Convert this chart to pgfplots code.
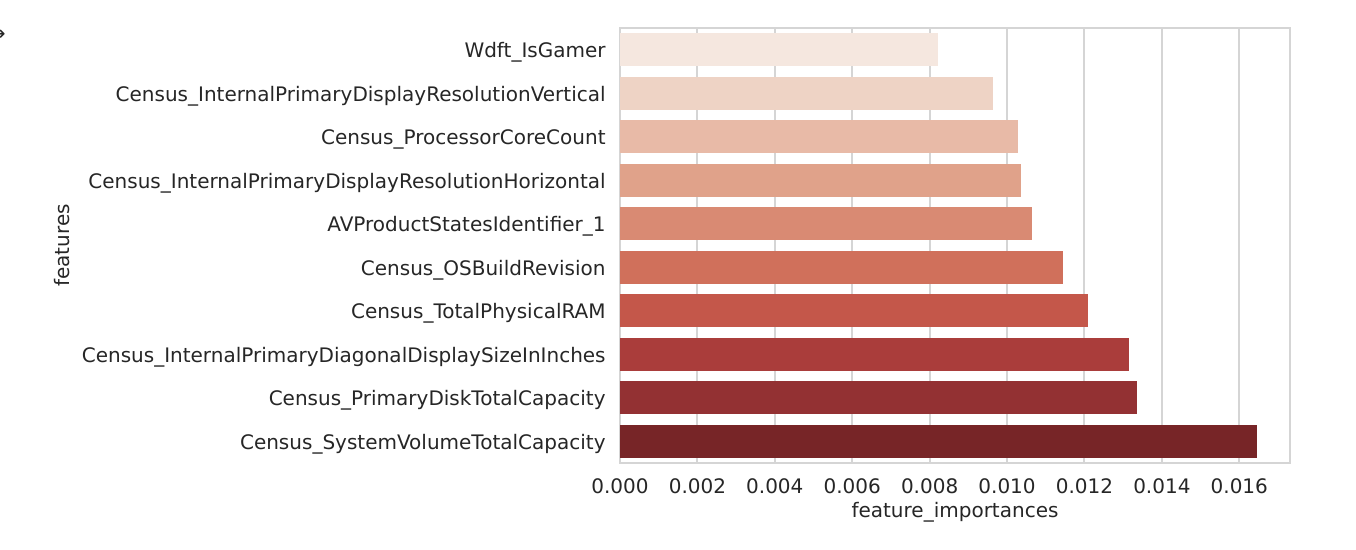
\documentclass[border=0pt]{standalone}
\usepackage{fontspec}
\setmainfont{DejaVu Sans}
\usepackage{pgfplots}
\pgfplotsset{compat=1.18}
\definecolor{txt}{HTML}{262626}
\definecolor{gridc}{HTML}{D5D5D5}
\definecolor{c1}{HTML}{F5E7DF}
\definecolor{c2}{HTML}{EED3C5}
\definecolor{c3}{HTML}{E8BAA7}
\definecolor{c4}{HTML}{E0A28A}
\definecolor{c5}{HTML}{D98A73}
\definecolor{c6}{HTML}{D0705B}
\definecolor{c7}{HTML}{C4574A}
\definecolor{c8}{HTML}{AA3D3B}
\definecolor{c9}{HTML}{933133}
\definecolor{c10}{HTML}{772527}
\begin{document}
\begin{tikzpicture}
\useasboundingbox (0,0) rectangle (678pt,275pt);
\node[anchor=east, inner sep=0pt, text=txt, font=\fontsize{10}{12}\selectfont] at (3pt,257.5pt) {→};
\begin{axis}[
  at={(310pt,43.5pt)}, anchor=south west,
  scale only axis, width=335pt, height=217.5pt,
  xmin=0, xmax=0.01731, ymin=-0.5, ymax=9.5, y dir=reverse,
  xbar, bar width=0.76, bar shift=0pt,
  xtick={0,0.002,0.004,0.006,0.008,0.010,0.012,0.014,0.016},
  /pgf/number format/assume math mode=true,
  scaled x ticks=false,
  ytick={0,1,2,3,4,5,6,7,8,9},
  yticklabels={Wdft\_IsGamer, Census\_InternalPrimaryDisplayResolutionVertical, Census\_ProcessorCoreCount, Census\_InternalPrimaryDisplayResolutionHorizontal, AVProductStatesIdentifier\_1, Census\_OSBuildRevision, Census\_TotalPhysicalRAM, Census\_InternalPrimaryDiagonalDisplaySizeInInches, Census\_PrimaryDiskTotalCapacity, Census\_SystemVolumeTotalCapacity},
  major tick length=0pt,
  xmajorgrids, grid style={gridc, line width=1pt},
  axis line style={gridc, line width=1pt},
  tick label style={font=\fontsize{10}{12}\selectfont, text=txt},
  yticklabel style={inner sep=0pt, anchor=base east, xshift=-7pt, yshift=-4.1pt},
  xticklabel style={inner sep=0pt, yshift=-7.5pt, /pgf/number format/fixed, /pgf/number format/fixed zerofill, /pgf/number format/precision=3},
  label style={font=\fontsize{10}{12}\selectfont, text=txt},
  xlabel={feature\_importances},
  ylabel={features},
  xlabel style={at={(axis description cs:0.5,-0.1126)}, anchor=center, inner sep=0pt},
  ylabel style={at={(axis description cs:-0.8321,0.5)}, anchor=center, inner sep=0pt},
  every axis plot/.append style={draw=none},
]
\addplot[fill=c1] coordinates {(0.008217,0)};
\addplot[fill=c2] coordinates {(0.009638,1)};
\addplot[fill=c3] coordinates {(0.010284,2)};
\addplot[fill=c4] coordinates {(0.010362,3)};
\addplot[fill=c5] coordinates {(0.010646,4)};
\addplot[fill=c6] coordinates {(0.011447,5)};
\addplot[fill=c7] coordinates {(0.012093,6)};
\addplot[fill=c8] coordinates {(0.013152,7)};
\addplot[fill=c9] coordinates {(0.013359,8)};
\addplot[fill=c10] coordinates {(0.016460,9)};
\end{axis}
\end{tikzpicture}
\end{document}
